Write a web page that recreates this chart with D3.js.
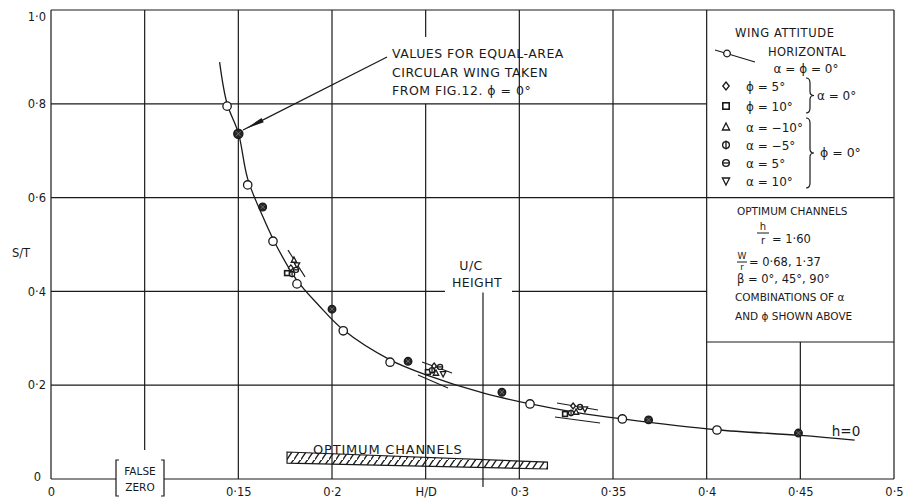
<!DOCTYPE html>
<html><head><meta charset="utf-8">
<script src="https://cdn.jsdelivr.net/npm/d3@7"></script>
<style>
body{margin:0;background:#fff}
svg text{font-family:"DejaVu Sans",sans-serif;fill:#1a1a1a}
</style>
</head><body>
<svg id="c" width="905" height="503"></svg>
<script>
// ---------- DATA ----------
const xTickValues = [0.05, 0.15, 0.2, 0.25, 0.3, 0.35, 0.4, 0.45, 0.5];
const xTickLabels = ["0", "0·15", "0·2", "H/D", "0·3", "0·35", "0·4", "0·45", "0·5"];
const yTickValues = [0, 0.2, 0.4, 0.6, 0.8, 1.0];
const yTickLabels = ["0", "0·2", "0·4", "0·6", "0·8", "1·0"];

// horizontal wing (open circles)
const horizHD = [0.144, 0.155, 0.1685, 0.1813, 0.206, 0.231, 0.3057, 0.355, 0.4055];
const horizST = [0.795, 0.627, 0.507, 0.416, 0.316, 0.249, 0.160, 0.128, 0.1045];

// equal-area circular wing (dark circles)
const circHD = [0.150, 0.163, 0.200, 0.2406, 0.2907, 0.369, 0.449];
const circST = [0.736, 0.580, 0.362, 0.251, 0.185, 0.126, 0.098];

// h = 0 faired curve
const curveHD = [0.140, 0.144, 0.150, 0.155, 0.163, 0.170, 0.181, 0.193, 0.206, 0.231, 0.251, 0.281, 0.306, 0.330, 0.355, 0.405, 0.450, 0.479];
const curveST = [0.889, 0.800, 0.738, 0.640, 0.560, 0.500, 0.425, 0.370, 0.318, 0.254, 0.221, 0.183, 0.160, 0.142, 0.128, 0.105, 0.093, 0.083];

// wing attitude points (optimum channels)
const attSym = ["tri", "itri", "diamond", "square", "phi", "theta",
                "square", "phi", "tri", "diamond", "theta", "itri",
                "square", "phi", "tri", "diamond", "theta", "itri"];
const attHD = [0.1797, 0.1813, 0.1780, 0.1760, 0.1787, 0.1808,
               0.2512, 0.2534, 0.2555, 0.2545, 0.2577, 0.2593,
               0.3244, 0.3276, 0.3303, 0.3287, 0.3324, 0.3350];
const attST = [0.467, 0.456, 0.450, 0.439, 0.437, 0.446,
               0.228, 0.232, 0.226, 0.241, 0.239, 0.224,
               0.1386, 0.1407, 0.1429, 0.1556, 0.1535, 0.149];

// scatter band lines around the attitude clusters
const spreadHD1 = [0.1765, 0.2481, 0.2459, 0.3201, 0.3190];
const spreadST1 = [0.488, 0.2495, 0.2217, 0.1620, 0.1322];
const spreadHD2 = [0.1856, 0.2641, 0.2619, 0.3420, 0.3431];
const spreadST2 = [0.431, 0.2260, 0.1940, 0.1471, 0.1194];

// optimum channels hatched band
const bandHD = [0.176, 0.315, 0.315, 0.176];
const bandST = [0.0576, 0.036, 0.0213, 0.034];

// U/C height
const ucHeightHD = 0.2806;

// ---------- CHART ----------
const svg = d3.select("#c");
svg.append("rect").attr("width", 905).attr("height", 503).attr("fill", "#fff");

const x = d3.scaleLinear().domain([0.05, 0.5]).range([51, 894]);
const y = d3.scaleLinear().domain([0, 1]).range([479, 10]);
const ink = "#1a1a1a";

const defs = svg.append("defs");
const pat = defs.append("pattern").attr("id", "hatch").attr("patternUnits", "userSpaceOnUse")
  .attr("width", 7).attr("height", 10);
pat.append("path").attr("d", "M-1,11L7,-1").attr("stroke", ink).attr("stroke-width", 1.3);

const grid = svg.append("g").attr("stroke", ink).attr("stroke-width", 1.2).attr("fill", "none");
function seg(x1, y1, x2, y2) { grid.append("line").attr("x1", x1).attr("y1", y1).attr("x2", x2).attr("y2", y2); }

// frame
seg(x(0.05), y(1), x(0.5), y(1));
seg(x(0.05), y(1), x(0.05), y(0));
seg(x(0.5), y(1), x(0.5), y(0));
seg(x(0.05), y(0), 116, y(0));
seg(164, y(0), x(0.5), y(0));

// vertical grid
seg(x(0.1), y(1), x(0.1), 450);
[0.15, 0.2, 0.3, 0.35, 0.4].forEach(v => seg(x(v), y(1), x(v), y(0)));
seg(x(0.25), y(1), x(0.25), 37);
seg(x(0.25), y(0.8), x(0.25), y(0));
seg(x(0.45), 342, x(0.45), y(0));

// horizontal grid
seg(x(0.05), y(0.8), x(0.4), y(0.8));
seg(x(0.05), y(0.6), x(0.5), y(0.6));
seg(x(0.05), y(0.4), 445, y(0.4));
seg(512, y(0.4), x(0.4), y(0.4));
seg(x(0.05), y(0.2), x(0.5), y(0.2));
// legend box bottom
seg(x(0.4), 342, x(0.5), 342);

// U/C height line
seg(x(ucHeightHD), y(0.4) + 1, x(ucHeightHD), y(0) + 8);

// axes labels via d3 axes
const xAxis = svg.append("g").attr("transform", `translate(0,${y(0)})`)
  .call(d3.axisBottom(x).tickValues(xTickValues).tickSize(0).tickPadding(9)
    .tickFormat((d, i) => xTickLabels[i]));
xAxis.select(".domain").remove();
xAxis.selectAll("text").attr("font-size", 11.5).attr("font-family", null).attr("fill", ink);

const yAxis = svg.append("g").attr("transform", `translate(${x(0.05)},0)`)
  .call(d3.axisLeft(y).tickValues(yTickValues).tickSize(0).tickPadding(5)
    .tickFormat((d, i) => yTickLabels[i]));
yAxis.select(".domain").remove();
yAxis.selectAll("text").attr("font-size", 11.5).attr("font-family", null).attr("fill", ink);
yAxis.selectAll(".tick").filter(d => d === 1).select("text").attr("dy", "0.9em");
yAxis.selectAll(".tick").filter(d => d === 0).select("text").attr("dy", "0.1em").attr("x", -10);

svg.append("text").attr("x", 21).attr("y", 257).attr("text-anchor", "middle").attr("font-size", 11.5).text("S/T");

// FALSE ZERO
const fz = svg.append("g").attr("stroke", ink).attr("stroke-width", 1.2).attr("fill", "none");
fz.append("path").attr("d", "M119,460H116V496H119");
fz.append("path").attr("d", "M161,460H164V496H161");
svg.append("text").attr("x", 140).attr("y", 475).attr("text-anchor", "middle").attr("font-size", 10.5).text("FALSE");
svg.append("text").attr("x", 140).attr("y", 491).attr("text-anchor", "middle").attr("font-size", 10.5).text("ZERO");

// optimum channels band
svg.append("path")
  .attr("d", d3.line().x((d, i) => x(bandHD[i])).y((d, i) => y(bandST[i]))(bandHD) + "Z")
  .attr("fill", "url(#hatch)").attr("stroke", ink).attr("stroke-width", 1.2);
svg.append("text").attr("x", 313).attr("y", 454).attr("font-size", 13).attr("letter-spacing", 0.8).text("OPTIMUM CHANNELS");

// U/C HEIGHT label
svg.append("text").attr("x", 471).attr("y", 270).attr("text-anchor", "middle").attr("font-size", 12.5).attr("letter-spacing", 0.4).text("U/C");
svg.append("text").attr("x", 477).attr("y", 287).attr("text-anchor", "middle").attr("font-size", 12.5).attr("letter-spacing", 0.4).text("HEIGHT");

// h=0 curve
svg.append("path")
  .attr("d", d3.line().curve(d3.curveCatmullRom.alpha(0.5)).x((d, i) => x(curveHD[i])).y((d, i) => y(curveST[i]))(curveHD))
  .attr("fill", "none").attr("stroke", ink).attr("stroke-width", 1.3);
svg.append("text").attr("x", 846).attr("y", 436).attr("text-anchor", "middle").attr("font-size", 13.5).text("h=0");

// spread band lines
spreadHD1.forEach((v, i) => {
  svg.append("line").attr("x1", x(v)).attr("y1", y(spreadST1[i])).attr("x2", x(spreadHD2[i])).attr("y2", y(spreadST2[i]))
    .attr("stroke", ink).attr("stroke-width", 1.1);
});

// symbol drawing
function sym(g, type, cx, cy, r) {
  const s = g.append("g").attr("transform", `translate(${cx},${cy})`)
    .attr("fill", "none").attr("stroke", ink).attr("stroke-width", 1.3);
  switch (type) {
    case "open": s.append("circle").attr("r", r).attr("fill", "#fff"); break;
    case "circ":
      s.append("circle").attr("r", r).attr("fill", "#262626");
      s.append("path").attr("d", `M${-r * 0.55},${-r * 0.55}L${r * 0.55},${r * 0.55}M${-r * 0.55},${r * 0.55}L${r * 0.55},${-r * 0.55}`)
        .attr("stroke", "#8a8a8a").attr("stroke-width", 0.7);
      break;
    case "diamond": s.append("path").attr("d", `M0,${-r}L${r * 0.8},0L0,${r}L${-r * 0.8},0Z`).attr("fill", "#fff"); break;
    case "square": s.append("rect").attr("x", -r * 0.8).attr("y", -r * 0.8).attr("width", r * 1.6).attr("height", r * 1.6).attr("fill", "#fff").attr("stroke-width", 1.6); break;
    case "tri": s.append("path").attr("d", `M0,${-r}L${r * 0.9},${r * 0.75}L${-r * 0.9},${r * 0.75}Z`).attr("fill", "#fff"); break;
    case "itri": s.append("path").attr("d", `M0,${r}L${r * 0.9},${-r * 0.75}L${-r * 0.9},${-r * 0.75}Z`).attr("fill", "#fff"); break;
    case "phi":
      s.append("circle").attr("r", r * 0.85).attr("fill", "#fff");
      s.append("line").attr("y1", -r * 1.1).attr("y2", r * 1.1);
      break;
    case "theta":
      s.append("circle").attr("r", r * 0.85).attr("fill", "#fff");
      s.append("line").attr("x1", -r * 0.85).attr("x2", r * 0.85);
      break;
  }
}

const pts = svg.append("g");
attSym.forEach((t, i) => sym(pts, t, x(attHD[i]), y(attST[i]), 3));
horizHD.forEach((v, i) => sym(pts, "open", x(v), y(horizST[i]), 4.2));
circHD.forEach((v, i) => sym(pts, "circ", x(v), y(circST[i]), i === 0 ? 4.6 : 3.8));

// annotation arrow
const ax0 = x(0.2294), ay0 = y(0.8998), ax1 = x(0.1525), ay1 = y(0.744);
svg.append("line").attr("x1", ax0).attr("y1", ay0).attr("x2", ax1).attr("y2", ay1).attr("stroke", ink).attr("stroke-width", 1.2);
{
  const dx = ax0 - ax1, dy = ay0 - ay1, L = Math.hypot(dx, dy), ux = dx / L, uy = dy / L;
  const bx = ax1 + ux * 22, by = ay1 + uy * 22;
  svg.append("path").attr("d", `M${ax1 + ux * 3},${ay1 + uy * 3}L${bx - uy * 2.5},${by + ux * 2.5}L${bx + uy * 2.5},${by - ux * 2.5}Z`).attr("fill", ink);
}
const annLines = ["VALUES FOR EQUAL-AREA", "CIRCULAR WING TAKEN", "FROM FIG.12. ϕ = 0°"];
annLines.forEach((t, i) => svg.append("text").attr("x", 392).attr("y", 58 + i * 18.5).attr("font-size", 12.5).attr("letter-spacing", 0.5).text(t));

// ---------- LEGEND ----------
const lg = svg.append("g");
const T = (tx, ty, s, fs, anchor, ls) => lg.append("text").attr("x", tx).attr("y", ty).attr("font-size", fs || 11)
  .attr("text-anchor", anchor || "start").attr("letter-spacing", ls || 0).text(s);
T(735, 37, "WING ATTITUDE", 11.5, "start", 0.6);
lg.append("line").attr("x1", 715).attr("y1", 50).attr("x2", 755).attr("y2", 62).attr("stroke", ink).attr("stroke-width", 1.2);
sym(lg, "open", 727, 53.5, 3.3);
T(768, 56, "HORIZONTAL", 11.5, "start", 0.3);
T(806, 73, "α = ϕ = 0°", 12, "middle");
const legSyms = ["diamond", "square", "tri", "phi", "theta", "itri"];
const legText = ["ϕ = 5°", "ϕ = 10°", "α = −10°", "α = −5°", "α = 5°", "α = 10°"];
const legY = [86, 106, 127, 145, 163, 181];
legSyms.forEach((t, i) => { sym(lg, t, 726, legY[i], 4); T(746, legY[i] + 4.5, legText[i], 12); });
function brace(bx, y1, y2) {
  const m = (y1 + y2) / 2;
  lg.append("path").attr("d",
    `M${bx},${y1}Q${bx + 4},${y1} ${bx + 4},${y1 + 5}L${bx + 4},${m - 4}Q${bx + 4},${m} ${bx + 8},${m}Q${bx + 4},${m} ${bx + 4},${m + 4}L${bx + 4},${y2 - 5}Q${bx + 4},${y2} ${bx},${y2}`)
    .attr("fill", "none").attr("stroke", ink).attr("stroke-width", 1.2);
}
brace(806, 78, 113);
T(817, 100, "α = 0°", 12);
brace(806, 118, 188);
T(820, 157, "ϕ = 0°", 12.5);

T(737, 215, "OPTIMUM CHANNELS", 10.5);
T(763, 230, "h", 10, "middle");
lg.append("line").attr("x1", 757).attr("y1", 233).attr("x2", 769).attr("y2", 233).attr("stroke", ink).attr("stroke-width", 1);
T(763, 244, "r", 10, "middle");
T(772, 243, "= 1·60", 11.5);
T(742, 259, "W", 9, "middle");
lg.append("line").attr("x1", 737).attr("y1", 262).attr("x2", 747).attr("y2", 262).attr("stroke", ink).attr("stroke-width", 1);
T(742, 270, "r", 9, "middle");
T(749, 266, "= 0·68, 1·37", 11.5);
T(737, 283, "β = 0°, 45°, 90°", 11.5);
T(735, 301, "COMBINATIONS OF α", 10.5);
T(735, 320, "AND ϕ SHOWN ABOVE", 10.5);
</script>
</body></html>
